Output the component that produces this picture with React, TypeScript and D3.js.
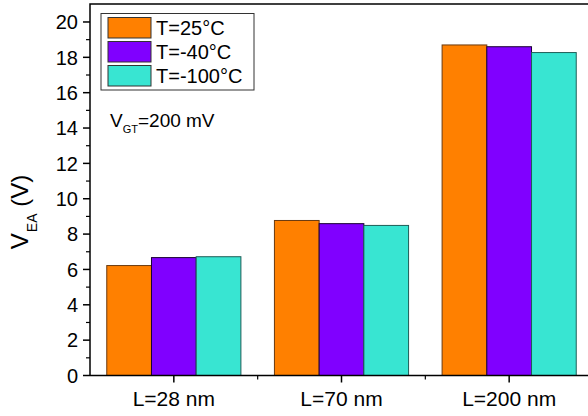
import React, { useEffect, useRef } from "react";
import * as d3 from "d3";

const categories = ["L=28 nm", "L=70 nm", "L=200 nm"];
const seriesNames = ["T=25°C", "T=-40°C", "T=-100°C"];
const t25 = [6.22, 8.77, 18.7];
const tm40 = [6.67, 8.59, 18.6];
const tm100 = [6.72, 8.49, 18.27];
const yTicks = [0, 2, 4, 6, 8, 10, 12, 14, 16, 18, 20];
const fills = ["#ff8000", "#8000ff", "#38e5d2"];
const strokes = ["#6b3a10", "#1a0033", "#1e5e58"];

const App = () => {
  const svgRef = useRef<SVGSVGElement>(null);

  useEffect(() => {
    const width = 588;
    const height = 416;
    const margin = { top: 4, right: -5, bottom: 40.5, left: 90 };
    const series = [t25, tm40, tm100];

    const svg = d3.select(svgRef.current);
    svg.selectAll("*").remove();

    const x = d3.scaleBand()
      .domain(categories)
      .range([margin.left, width - margin.right])
      .paddingInner(0)
      .paddingOuter(0);

    const y = d3.scaleLinear()
      .domain([0, 21])
      .range([height - margin.bottom, margin.top + 0.3]);

    const groupW = x.bandwidth() * 0.8;
    const xs = d3.scaleBand()
      .domain(seriesNames)
      .range([0, groupW]);

    const font = "Arial, 'Liberation Sans', sans-serif";

    // bars
    seriesNames.forEach((name, si) => {
      svg.append("g")
        .selectAll("rect")
        .data(categories)
        .join("rect")
        .attr("x", (c) => x(c)! + (x.bandwidth() - groupW) / 2 + xs(name)!)
        .attr("y", (c, i) => y(series[si][i]))
        .attr("width", xs.bandwidth())
        .attr("height", (c, i) => y(0) - y(series[si][i]))
        .attr("fill", fills[si])
        .attr("stroke", strokes[si])
        .attr("stroke-width", 1);
    });

    // frame
    const x0 = margin.left;
    const x1 = width - margin.right;
    const yb = y(0);
    const yt = margin.top;
    svg.append("path")
      .attr("d", `M${x0},${yb}V${yt}H${x1}M${x0},${yb}H${x1}`)
      .attr("fill", "none")
      .attr("stroke", "#000")
      .attr("stroke-width", 1.5);

    // y ticks
    const yAxis = svg.append("g");
    yTicks.forEach((t) => {
      yAxis.append("line")
        .attr("x1", x0 - 7).attr("x2", x0)
        .attr("y1", y(t)).attr("y2", y(t))
        .attr("stroke", "#000").attr("stroke-width", 1.5);
      yAxis.append("text")
        .attr("x", x0 - 12)
        .attr("y", y(t))
        .attr("dy", "0.36em")
        .attr("text-anchor", "end")
        .attr("font-family", font)
        .attr("font-size", 20)
        .text(t);
    });
    d3.range(1, 21, 2).forEach((t) => {
      yAxis.append("line")
        .attr("x1", x0 - 4).attr("x2", x0)
        .attr("y1", y(t)).attr("y2", y(t))
        .attr("stroke", "#000").attr("stroke-width", 1.2);
    });

    // x ticks
    const xAxis = svg.append("g");
    categories.forEach((c, i) => {
      const cx = x(c)! + x.bandwidth() / 2;
      xAxis.append("line")
        .attr("x1", cx).attr("x2", cx)
        .attr("y1", yb).attr("y2", yb + 7)
        .attr("stroke", "#000").attr("stroke-width", 1.5);
      xAxis.append("text")
        .attr("x", cx)
        .attr("y", yb + 30)
        .attr("text-anchor", "middle")
        .attr("font-family", font)
        .attr("font-size", 21)
        .text(c);
      if (i > 0) {
        xAxis.append("line")
          .attr("x1", x(c)!).attr("x2", x(c)!)
          .attr("y1", yb).attr("y2", yb + 4)
          .attr("stroke", "#000").attr("stroke-width", 1.2);
      }
    });

    // y title
    const yTitle = svg.append("text")
      .attr("transform", `translate(28,212) rotate(-90)`)
      .attr("text-anchor", "middle")
      .attr("font-family", font)
      .attr("font-size", 24);
    yTitle.append("tspan").text("V");
    yTitle.append("tspan").attr("font-size", 14).attr("dy", 9).attr("dx", 1).text("EA");
    yTitle.append("tspan").attr("dy", -9).text(" (V)");

    // legend
    const lg = svg.append("g");
    lg.append("rect")
      .attr("x", 101).attr("y", 13.5)
      .attr("width", 153).attr("height", 76.5)
      .attr("fill", "#fff")
      .attr("stroke", "#333").attr("stroke-width", 1);
    seriesNames.forEach((name, i) => {
      lg.append("rect")
        .attr("x", 108).attr("y", 17.5 + i * 24)
        .attr("width", 43).attr("height", 20.5)
        .attr("fill", fills[i])
        .attr("stroke", "#333").attr("stroke-width", 1);
      lg.append("text")
        .attr("x", 156).attr("y", 28 + i * 24)
        .attr("dy", "0.36em")
        .attr("font-family", font)
        .attr("font-size", 20)
        .text(name);
    });

    // annotation
    const ann = svg.append("text")
      .attr("x", 110).attr("y", 127)
      .attr("font-family", font)
      .attr("font-size", 19);
    ann.append("tspan").text("V");
    ann.append("tspan").attr("font-size", 11).attr("dy", 6).text("GT");
    ann.append("tspan").attr("dy", -6).text("=200 mV");
  }, []);

  return (
    <svg
      ref={svgRef}
      width={588}
      height={416}
      style={{ position: "absolute", left: 0, top: 0, background: "#fff" }}
    />
  );
};

export default App;
